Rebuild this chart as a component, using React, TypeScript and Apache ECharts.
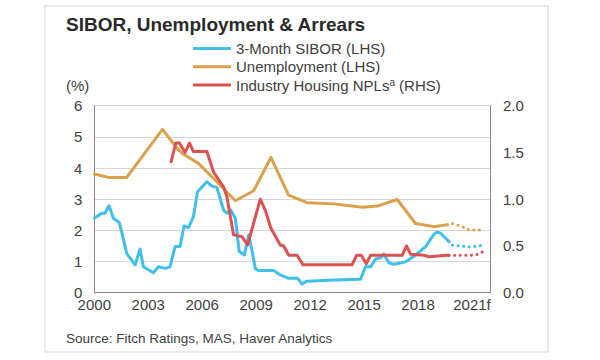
import React, { useEffect, useRef } from "react";
import * as echarts from "echarts";

// ---- Data ----
const sibYears = [2000.0, 2000.41, 2000.59, 2000.82, 2001.06, 2001.39, 2001.52, 2001.8, 2002.27, 2002.54, 2002.73, 2003.29, 2003.56, 2003.94, 2004.21, 2004.49, 2004.77, 2004.99, 2005.24, 2005.51, 2005.74, 2006.26, 2006.54, 2006.81, 2007.19, 2007.37, 2007.59, 2007.84, 2008.06, 2008.34, 2008.58, 2008.76, 2008.95, 2009.13, 2009.97, 2010.34, 2010.81, 2011.31, 2011.55, 2011.83, 2013.32, 2014.8, 2015.08, 2015.36, 2015.64, 2015.92, 2016.1, 2016.38, 2016.66, 2017.31, 2017.87, 2018.42, 2018.89, 2019.07, 2019.26, 2019.63, 2019.72];
const sibValues = [2.39, 2.55, 2.55, 2.79, 2.39, 2.25, 1.96, 1.26, 0.89, 1.4, 0.83, 0.64, 0.83, 0.78, 0.83, 1.48, 1.48, 2.14, 2.09, 2.44, 3.24, 3.56, 3.42, 3.38, 2.65, 2.55, 2.65, 2.39, 1.32, 1.21, 1.85, 1.37, 0.78, 0.71, 0.71, 0.57, 0.46, 0.46, 0.28, 0.37, 0.41, 0.43, 0.83, 0.83, 1.08, 1.12, 1.24, 0.96, 0.91, 0.99, 1.21, 1.48, 1.88, 1.95, 1.9, 1.69, 1.64];
const sibFcYears = [2019.72, 2019.82, 2020.37, 2020.93, 2021.67];
const sibFcValues = [1.64, 1.53, 1.5, 1.46, 1.53];

const unempYears = [2000.0, 2000.78, 2001.8, 2003.79, 2004.68, 2004.96, 2005.79, 2006.81, 2007.84, 2008.86, 2009.82, 2010.8, 2011.83, 2013.3, 2014.9, 2015.73, 2016.84, 2017.86, 2018.89, 2019.63];
const unempValues = [3.81, 3.7, 3.7, 5.24, 4.58, 4.44, 4.15, 3.56, 2.95, 3.27, 4.34, 3.13, 2.89, 2.85, 2.74, 2.78, 2.99, 2.22, 2.12, 2.18];
const unempFcYears = [2019.63, 2019.82, 2020.37, 2020.84, 2021.67];
const unempFcValues = [2.18, 2.23, 2.14, 2.01, 2.01];

const nplYears = [2004.27, 2004.53, 2004.73, 2005.05, 2005.29, 2005.51, 2006.26, 2006.63, 2007.19, 2007.37, 2007.74, 2008.21, 2008.52, 2009.23, 2009.51, 2009.82, 2010.34, 2010.53, 2010.81, 2011.27, 2011.6, 2014.34, 2014.58, 2014.84, 2015.12, 2015.36, 2017.12, 2017.36, 2017.59, 2018.33, 2018.61, 2019.63, 2019.72];
const nplValues = [1.4, 1.6, 1.6, 1.5, 1.6, 1.51, 1.51, 1.29, 1.13, 1.03, 0.62, 0.6, 0.51, 1.0, 0.88, 0.69, 0.51, 0.5, 0.4, 0.4, 0.3, 0.3, 0.4, 0.4, 0.31, 0.4, 0.4, 0.5, 0.41, 0.4, 0.385, 0.4, 0.4];
const nplFcYears = [2019.72, 2019.82, 2020.93, 2021.3, 2021.67];
const nplFcValues = [0.4, 0.4, 0.4, 0.41, 0.443];

const xLabelYears = [2000, 2003, 2006, 2009, 2012, 2015, 2018, 2021];
const forecastYear = 2021;

const seriesNames = ["3-Month SIBOR (LHS)", "Unemployment (LHS)", "Industry Housing NPLs (RHS)"];

const BLUE = "#3fbfea";
const ORANGE = "#dba04c";
const RED = "#dc5252";
const TEXT = "#404040";
const FONT = "Liberation Sans, Arial, sans-serif";

const zip = (xs: number[], ys: number[]) => xs.map((x, i) => [x, ys[i]]);

export default function App() {
  const ref = useRef<HTMLDivElement>(null);
  useEffect(() => {
    if (!ref.current) return;
    const chart = echarts.init(ref.current, undefined, { renderer: "svg" });
    const solid = (color: string) => ({ color, width: 3, join: "round", cap: "round" });
    const dotted = (color: string) => ({ color, width: 3, type: [0.1, 5.5], cap: "round" });
    chart.setOption({
      animation: false,
      textStyle: { fontFamily: FONT },
      title: {
        text: "SIBOR, Unemployment & Arrears",
        left: 66,
        top: 15,
        padding: 0,
        textStyle: { fontSize: 19, fontWeight: "bold", color: "#2a2a2a", fontFamily: FONT },
      },
      legend: {
        orient: "vertical",
        left: 193,
        top: 41,
        padding: 0,
        itemGap: 3.3,
        itemWidth: 38,
        itemHeight: 3,
        icon: "roundRect",
        data: seriesNames,
        formatter: (name: string) =>
          name === seriesNames[2] ? "Industry Housing NPLs{sup|a} (RHS)" : name,
        textStyle: {
          fontSize: 15,
          color: TEXT,
          lineHeight: 15,
          rich: { sup: { fontSize: 10, lineHeight: 10, verticalAlign: "top", color: TEXT } },
        },
      },
      graphic: [
        {
          type: "rect",
          shape: { x: 45, y: 6, width: 503, height: 346 },
          style: { fill: "none", stroke: "#e2e2e2", lineWidth: 1.5 },
          silent: true,
        },
        {
          type: "text",
          x: 66,
          y: 85,
          style: { text: "(%)", fontSize: 15, fill: TEXT, verticalAlign: "middle", fontFamily: FONT },
        },
        {
          type: "text",
          x: 66,
          y: 338,
          style: { text: "Source: Fitch Ratings, MAS, Haver Analytics", fontSize: 13.5, fill: TEXT, verticalAlign: "middle", fontFamily: FONT },
        },
      ],
      grid: { left: 94.3, right: 110, top: 105.7, bottom: 67.3, containLabel: false },
      xAxis: {
        type: "value",
        min: 2000,
        max: 2022,
        interval: 1,
        axisLine: { show: true, lineStyle: { color: "#8a8a8a", width: 1 } },
        axisTick: { show: false },
        splitLine: { show: false },
        axisLabel: {
          fontSize: 15,
          color: TEXT,
          margin: 4,
          showMaxLabel: true,
          formatter: (v: number) => {
            const y = Math.round(v);
            if (!xLabelYears.includes(y)) return "";
            return y === forecastYear ? `${y}f` : String(y);
          },
        },
      },
      yAxis: [
        {
          type: "value",
          min: 0,
          max: 6,
          interval: 1,
          axisLine: { show: true, lineStyle: { color: "#8a8a8a", width: 1 } },
          axisTick: { show: false },
          splitLine: { show: true, lineStyle: { color: "#d6d6d6", width: 1 } },
          axisLabel: { fontSize: 15, color: TEXT, margin: 12 },
        },
        {
          type: "value",
          min: 0,
          max: 2,
          interval: 0.5,
          position: "right",
          axisLine: { show: true, lineStyle: { color: "#8a8a8a", width: 1 } },
          axisTick: { show: false },
          splitLine: { show: false },
          axisLabel: { fontSize: 15, color: TEXT, margin: 13, formatter: (v: number) => v.toFixed(1) },
        },
      ],
      series: [
        { name: seriesNames[0], type: "line", yAxisIndex: 0, showSymbol: false, data: zip(sibYears, sibValues), lineStyle: solid(BLUE), itemStyle: { color: BLUE }, z: 3 },
        { name: seriesNames[1], type: "line", yAxisIndex: 0, showSymbol: false, data: zip(unempYears, unempValues), lineStyle: solid(ORANGE), itemStyle: { color: ORANGE }, z: 2 },
        { name: seriesNames[2], type: "line", yAxisIndex: 1, showSymbol: false, data: zip(nplYears, nplValues), lineStyle: solid(RED), itemStyle: { color: RED }, z: 4 },
        { name: seriesNames[0], type: "line", yAxisIndex: 0, showSymbol: false, data: zip(sibFcYears, sibFcValues), lineStyle: dotted(BLUE), itemStyle: { color: BLUE }, z: 3 },
        { name: seriesNames[1], type: "line", yAxisIndex: 0, showSymbol: false, data: zip(unempFcYears, unempFcValues), lineStyle: dotted(ORANGE), itemStyle: { color: ORANGE }, z: 2 },
        { name: seriesNames[2], type: "line", yAxisIndex: 1, showSymbol: false, data: zip(nplFcYears, nplFcValues), lineStyle: dotted(RED), itemStyle: { color: RED }, z: 4 },
      ],
    });
    return () => chart.dispose();
  }, []);
  return <div ref={ref} style={{ position: "absolute", left: 0, top: 0, width: 600, height: 360 }} />;
}
